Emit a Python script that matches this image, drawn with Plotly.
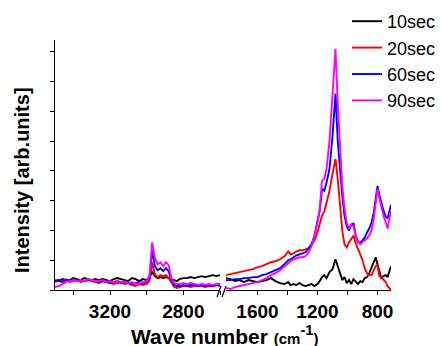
import plotly.graph_objects as go

# ---------------- data ----------------
series_names = ["10sec", "20sec", "60sec", "90sec"]
series_colors = ["#000000", "#ff0000", "#0000ff", "#ff00ff"]

# high wavenumber region (cm-1)
wn_high = [3500, 3480, 3460, 3440, 3420, 3400, 3380, 3360, 3340, 3320, 3300, 3280,
           3260, 3240, 3220, 3200, 3180, 3160, 3140, 3120, 3100, 3080, 3060, 3040,
           3020, 3000, 2985, 2970, 2955, 2940, 2925, 2910, 2895, 2880, 2865, 2850,
           2835, 2820, 2800, 2780, 2760, 2740, 2720, 2700, 2680, 2660, 2640, 2620, 2600]
black_high = [10, 9, 11, 10, 10, 12, 11, 10, 12, 11, 10, 11,
              10, 11, 10, 9, 11, 12, 11, 10, 9, 12, 11, 9,
              11, 10, 13, 18, 14, 12, 13, 12, 13, 12, 11, 10,
              9, 11, 12, 12, 13, 12, 13, 14, 13, 14, 15, 14, 15]
red_high = [8, 10, 9, 11, 8, 9, 10, 8, 9, 10, 9, 8,
            7, 9, 8, 7, 6, 7, 8, 6, 7, 5, 4, 6,
            5, 6, 9, 28, 16, 13, 15, 14, 15, 12, 7, 3,
            2, 3, 4, 4, 3, 4, 5, 4, 3, 4, 4, 5, 4]
blue_high = [9, 10, 8, 10, 9, 11, 9, 10, 9, 10, 10, 9,
             8, 9, 8, 7, 8, 9, 7, 8, 7, 6, 7, 8,
             7, 8, 12, 40, 24, 20, 22, 19, 22, 19, 10, 5,
             4, 4, 5, 4, 5, 5, 4, 5, 4, 5, 4, 5, 5]
mag_high = [3, 4, 6, 8, 9, 10, 9, 10, 9, 11, 10, 9,
            9, 10, 8, 9, 8, 9, 8, 8, 7, 8, 6, 7,
            8, 9, 14, 48, 32, 26, 28, 24, 28, 25, 12, 7,
            6, 6, 7, 6, 7, 6, 5, 6, 5, 6, 5, 6, 6]

# low wavenumber region (cm-1)
wn_low = [1810, 1780, 1750, 1720, 1690, 1660, 1630, 1600, 1570, 1540, 1510, 1480,
          1450, 1420, 1395, 1380, 1360, 1340, 1320, 1300, 1280, 1260, 1240, 1220,
          1200, 1185, 1170, 1155, 1140, 1120, 1100, 1080, 1065, 1050, 1035, 1020,
          1005, 990, 975, 960, 945, 930, 915, 900, 885, 870, 855, 840, 825, 812,
          800, 788, 775, 760, 745, 733, 720, 710]
black_low = [12, 11, 9, 10, 8, 10, 9, 8, 9, 10, 12, 9,
             7, 6, 8, 5, 6, 5, 7, 5, 4, 5, 6, 4,
             6, 9, 13, 15, 12, 18, 21, 31, 24, 18, 10, 13,
             7, 10, 6, 11, 8, 6, 9, 8, 12, 13, 17, 23, 28, 33,
             26, 18, 12, 14, 15, 13, 19, 24]
red_low = [15, 16, 17, 18, 19, 20, 21, 23, 24, 26, 28, 29,
           31, 34, 39, 36, 37, 39, 40, 40, 41, 42, 45, 50,
           58, 68, 75, 79, 88, 100, 117, 132, 112, 85, 60, 46,
           43, 48, 52, 55, 47, 42, 36, 30, 22, 17, 15, 15, 19, 24,
           25, 14, 13, 10, 8, 4, 2, 0]
blue_low = [10, 10, 11, 11, 12, 12, 13, 13, 15, 16, 18, 20,
            22, 26, 30, 31, 33, 35, 36, 37, 38, 42, 46, 55,
            68, 80, 102, 100, 108, 122, 155, 198, 150, 118, 95, 75,
            64, 60, 66, 67, 55, 48, 48, 50, 53, 58, 62, 68, 78, 92,
            105, 96, 88, 80, 74, 72, 80, 86]
mag_low = [2, 1, 3, 4, 5, 6, 7, 8, 10, 12, 15, 17,
           20, 24, 28, 29, 31, 32, 33, 33, 34, 38, 44, 55,
           68, 82, 110, 112, 122, 150, 195, 243, 188, 140, 105, 82,
           68, 62, 66, 64, 54, 49, 46, 48, 50, 52, 55, 60, 72, 88,
           102, 93, 84, 75, 68, 62, 72, 80]

high_vals = [black_high, red_high, blue_high, mag_high]
low_vals = [black_low, red_low, blue_low, mag_low]

ticks_high = [3400, 3200, 3000, 2800, 2600]
ticklab_high = ["", "3200", "", "2800", ""]
ticks_low = [1600, 1400, 1200, 1000, 800]
ticklab_low = ["1600", "", "1200", "", "800"]

# ---------------- figure ----------------
FONT = "Arial, Liberation Sans, sans-serif"
W, H = 442, 346
ML, MR, MT, MB = 55, 51, 40, 56
PW = W - ML - MR
PH = H - MT - MB

def px_x(px):
    return (px - ML) / PW

def px_y(py):
    return (H - MB - py) / PH

fig = go.Figure()
for i, name in enumerate(series_names):
    fig.add_trace(go.Scatter(x=wn_high, y=high_vals[i], mode="lines", name=name,
                             legendgroup=name, showlegend=True,
                             line=dict(color=series_colors[i], width=1.9),
                             xaxis="x", yaxis="y"))
    fig.add_trace(go.Scatter(x=wn_low, y=low_vals[i], mode="lines", name=name,
                             legendgroup=name, showlegend=False,
                             line=dict(color=series_colors[i], width=1.9),
                             xaxis="x2", yaxis="y"))

axis_common = dict(showgrid=False, zeroline=False, showline=True, linecolor="black",
                   linewidth=1.3, ticks="outside", ticklen=4, tickwidth=1.3,
                   tickcolor="black", automargin=False,
                   tickfont=dict(family=FONT, size=19, color="black"))

fig.update_layout(
    template="none",
    width=W, height=H,
    margin=dict(l=ML, r=MR, t=MT, b=MB, pad=0, autoexpand=False),
    paper_bgcolor="white", plot_bgcolor="white",
    showlegend=True,
    legend=dict(x=px_x(347), y=px_y(3), xanchor="left", yanchor="top",
                font=dict(family=FONT, size=18, color="black"),
                bgcolor="rgba(0,0,0,0)", borderwidth=0, tracegroupgap=0),
    xaxis=dict(domain=[0, px_x(220)], range=[3500, 2600], tickmode="array",
               tickvals=ticks_high, ticktext=["<b>%s</b>" % t if t else "" for t in ticklab_high],
               anchor="y", **axis_common),
    xaxis2=dict(domain=[px_x(226), 1], range=[1810, 710], tickmode="array",
                tickvals=ticks_low, ticktext=["<b>%s</b>" % t if t else "" for t in ticklab_low],
                anchor="y", **axis_common),
    yaxis=dict(range=[0, 252], dtick=30, showticklabels=False, anchor="x",
               **{k: v for k, v in axis_common.items() if k != "tickfont"}),
)

# axis break marks
for xs in (217, 222):
    fig.add_shape(type="line", xref="paper", yref="paper",
                  x0=px_x(xs), y0=px_y(297), x1=px_x(xs + 4), y1=px_y(286),
                  line=dict(color="black", width=1.2))

fig.add_annotation(xref="paper", yref="paper", x=px_x(225), y=px_y(335),
                   text="<b>Wave number <span style='font-size:15px'>(cm</span><sup>-1</sup><span style='font-size:15px'>)</span></b>",
                   showarrow=False, font=dict(family=FONT, size=21, color="black"),
                   xanchor="center", yanchor="middle")
fig.add_annotation(xref="paper", yref="paper", x=px_x(22), y=px_y(180),
                   text="<b>Intensity [arb.units]</b>", textangle=-90,
                   showarrow=False, font=dict(family=FONT, size=20, color="black"),
                   xanchor="center", yanchor="middle")

fig.write_html("out.html", config={"displayModeBar": False},
               post_script="document.body.style.margin='0';document.body.style.padding='0';")
